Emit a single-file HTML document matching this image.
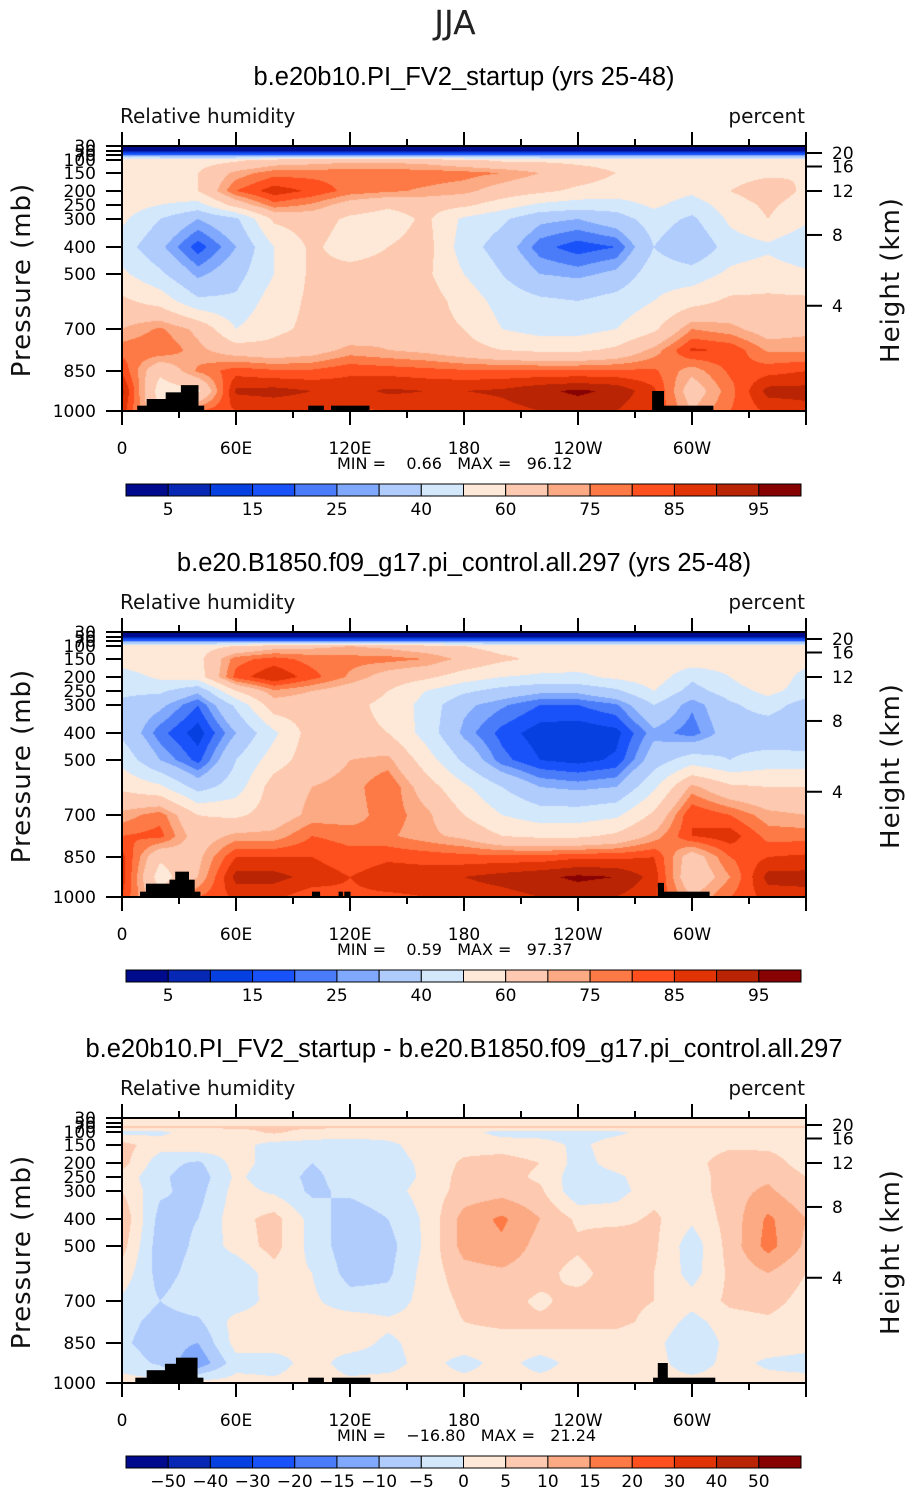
<!DOCTYPE html>
<html><head><meta charset="utf-8">
<style>
html,body{margin:0;padding:0;background:#fff;}
body{width:911px;height:1493px;position:relative;overflow:hidden;font-family:"Liberation Sans",sans-serif;}
canvas{position:absolute;}
svg{position:absolute;left:0;top:0;}
</style></head>
<body>
<canvas id="c1" width="684" height="265" style="left:122px;top:146px"></canvas>
<canvas id="c2" width="684" height="265" style="left:122px;top:632px"></canvas>
<canvas id="c3" width="684" height="265" style="left:122px;top:1118px"></canvas>
<svg id="ov" width="911" height="1493"></svg>
<script>
// ---- data ----
const LON = [0,20,40,60,80,100,120,140,160,180,200,220,240,260,280,300,320,340,360];
const PRES = [30,50,70,100,150,200,250,300,400,500,600,700,775,850,925,1000];
const LEVELS_RH = [5,10,15,20,25,30,40,50,60,70,75,80,85,90,95];
const LABELS_RH = ["5","15","25","40","60","75","85","95"];
const LEVELS_DIFF = [-50,-40,-30,-20,-15,-10,-5,0,5,10,15,20,30,40,50];
const LABELS_DIFF = ["−50","−40","−30","−20","−15","−10","−5","0","5","10","15","20","30","40","50"];
const LON_LABELS = ["0","60E","120E","180","120W","60W"];
const PRES_TICKS = [30,50,70,100,150,200,250,300,400,500,700,850,1000];
const HEIGHT_LABELS = ["20","16","12","8","4"];
const HEIGHT_PRES = [60,125,200,357,617];
const TITLES = ["b.e20b10.PI_FV2_startup (yrs 25-48)","b.e20.B1850.f09_g17.pi_control.all.297 (yrs 25-48)","b.e20b10.PI_FV2_startup - b.e20.B1850.f09_g17.pi_control.all.297"];
const MINMAX = [["0.66","96.12"],["0.59","97.37"],["−16.80","21.24"]];

const rh1 = [
[1,1,1,1,1,1,1,1,1,1,1,1,1,1,1,1,1,1,1],
[4,4,4,4,4,4,4,4,4,4,4,4,4,4,4,4,4,4,4],
[22,22,22,22,22,22,22,22,22,22,22,22,22,22,22,22,22,22,22],
[58,58,56,58,64,66,68,68,66,62,58,58,57,56,56,55,55,56,58],
[60,58,60,72,78,78,78,78,78,77,75,70,65,60,58,56,56,58,60],
[58,56,60,80,88,84,78,76,74,72,66,62,58,56,56,52,60,66,58],
[55,50,46,64,78,74,66,62,64,62,55,48,45,45,52,45,55,62,55],
[52,40,30,38,62,65,58,55,62,48,42,32,30,35,45,38,52,60,52],
[45,32,17,30,50,62,55,60,64,45,35,22,17,20,40,30,45,48,42],
[52,42,28,36,50,62,64,64,62,50,40,30,28,32,46,45,52,55,52],
[62,56,42,42,55,62,64,68,65,56,46,42,40,44,50,56,62,62,62],
[70,76,68,50,58,62,63,68,64,60,50,46,46,50,58,75,72,66,68],
[78,80,72,65,63,66,72,70,68,64,60,58,58,62,72,86,84,74,74],
[84,62,76,83,81,81,84,83,82,81,81,81,81,81,81,72,81,83,85],
[92,55,58,91,92,90,88,91,90,90,91,94,96,94,86,65,78,92,92],
[88,60,80,85,86,86,84,85,86,86,88,90,92,90,85,70,80,86,88]];

const rh2 = [
[1,1,1,1,1,1,1,1,1,1,1,1,1,1,1,1,1,1,1],
[4,4,4,4,4,4,4,4,4,4,4,4,4,4,4,4,4,4,4],
[22,22,22,22,22,22,22,22,22,22,22,22,22,22,22,22,22,22,22],
[56,56,56,60,66,68,70,68,64,60,56,56,55,55,55,55,55,55,56],
[55,58,57,78,82,78,77,77,75,68,62,58,55,55,57,57,55,60,55],
[45,52,55,82,90,82,74,66,62,55,50,48,48,52,56,42,50,60,45],
[42,42,32,60,74,70,65,60,50,42,36,32,32,38,50,36,45,53,45],
[38,32,20,42,66,65,62,58,46,32,26,20,20,24,40,26,38,45,35],
[38,22,12,30,48,65,62,60,46,28,18,12,11,13,28,22,35,32,30],
[47,30,18,40,55,66,70,72,55,38,22,15,13,16,35,45,40,45,45],
[58,52,36,45,65,70,72,80,65,52,40,30,28,30,48,72,62,60,60],
[72,78,60,58,65,72,72,78,72,60,50,45,45,48,62,85,80,72,70],
[80,82,65,72,72,80,78,76,72,68,60,58,58,62,72,85,88,78,78],
[87,62,68,85,85,85,82,84,83,82,82,82,84,84,85,65,80,85,86],
[88,55,70,92,92,88,85,88,88,90,92,94,96,95,88,62,75,92,92],
[85,62,80,86,86,82,84,84,85,87,88,90,92,90,86,70,80,87,88]];

const rh3 = [
[2,2,2,2,2,2,2,2,2,2,2,2,2,2,2,2,2,2,2],
[3,3,3,3,3,3,3,3,3,3,3,3,3,3,3,3,3,3,3],
[6,6,6,6,6,6,6,6,6,6,6,6,6,6,6,6,6,6,6],
[-2,-1,2,3,6,3,2,2,2,2,-2,-2,-2,-1,2,2,2,2,2],
[7,2,4,2,-2,-2,-2,-1,2,3,3,2,-1,2,2,2,4,4,3],
[7,-3,-6,2,-2,-5,-3,-2,1,6,7,5,-2,2,3,3,8,7,3],
[3,-4,-8,1,-3,-6,-3,-3,1,7,7,4,-3,-1,3,2,8,9,5],
[5,-4,-7,2,-1,-6,-4,-2,2,7,8,6,-4,-2,3,2,8,11,6],
[9,-7,-5,3,7,-2,-8,-5,1,12,16,10,4,3,6,1,7,16,10],
[7,-8,-4,2,7,-2,-8,-7,1,12,14,8,6,10,6,-3,7,17,9],
[3,-7,-3,-4,3,0,-7,-6,2,8,9,7,3,8,5,-2,6,10,5],
[-1,-5,-2,-3,2,1,-3,-3,2,6,7,4,7,6,5,2,6,7,3],
[-3,-7,-6,2,3,2,3,1,2,5,6,6,6,6,4,-2,3,4,2],
[-4,-8,-10,2,2,1,2,-1,2,3,3,3,3,3,2,-5,2,3,2],
[-2,-6,-14,-2,-2,2,-2,-2,2,-2,2,-2,2,3,2,-3,2,-1,-2],
[2,2,2,2,1,2,1,2,2,2,2,2,2,2,2,2,2,2,2]];

// topography blocks: [lonStart, lonEnd, topPressure]
const topo1 = [[8,13,980],[13,23,955],[23,31,930],[31,40,903],[40,43,980],[98,106,980],[110,130,980],[279,285,925],[285,311,980]];
const topo2 = [[9.5,12.6,980],[12.6,25,950],[25,28,935],[28,35,905],[35,38,935],[38,41,980],[100,104,980],[114,116,980],[117,120,980],[282,285,947],[285,309,980]];
const topo3 = [[7,13,980],[13,22.6,952],[22.6,28.4,928],[28.4,39.5,905],[39.5,42.6,980],[98,106,980],[110.5,130.5,980],[279.5,282,980],[282,287,925],[287,312,980]];

const COLORS = ['#000a8c','#0628b4','#0640e0','#1a52fa','#4a7cfa','#80a8fc','#b0ccfc','#d4e8fc','#fee9d8','#fdc9b0','#fcaa84','#fd7a46','#fe4f1e','#e03406','#b92404','#870202'];

// ---- layout / axis functions ----
const ROWY = [0,5,9,14,27,45,59,73,101,128,155,183,204,225,245,265];
const PW = 684, PH = 265, PX0 = 122;
const PANEL_TOP = [146,632,1118];
function yOfP(p){
  for(let i=0;i<PRES.length-1;i++){
    if(p>=PRES[i] && p<=PRES[i+1]){ return ROWY[i]+(p-PRES[i])/(PRES[i+1]-PRES[i])*(ROWY[i+1]-ROWY[i]); }
  }
  return p<PRES[0]?0:PH;
}
function xOfLon(l){ return l/360*PW; }
function hex(c){ return [parseInt(c.substr(1,2),16),parseInt(c.substr(3,2),16),parseInt(c.substr(5,2),16)]; }
const RGB = COLORS.map(hex);
function levelIdx(v,L){ let k=0; while(k<L.length && v>=L[k]) k++; return k; }

function render(id, grid, L){
  const cv=document.getElementById(id), ctx=cv.getContext('2d');
  const img=ctx.createImageData(PW,PH), d=img.data;
  const nC=LON.length;
  for(let py=0;py<PH;py++){
    const yy=py+0.5; let r=0;
    while(r<ROWY.length-2 && yy>ROWY[r+1]) r++;
    const t=Math.min(1,Math.max(0,(yy-ROWY[r])/(ROWY[r+1]-ROWY[r])));
    for(let px=0;px<PW;px++){
      const lon=(px+0.5)/PW*360;
      let c=0; while(c<nC-2 && lon>LON[c+1]) c++;
      const u=(lon-LON[c])/(LON[c+1]-LON[c]);
      const v=(1-t)*((1-u)*grid[r][c]+u*grid[r][c+1])+t*((1-u)*grid[r+1][c]+u*grid[r+1][c+1]);
      const col=RGB[levelIdx(v,L)], o=(py*PW+px)*4;
      d[o]=col[0];d[o+1]=col[1];d[o+2]=col[2];d[o+3]=255;
    }
  }
  ctx.putImageData(img,0,0);
}
render('c1',rh1,LEVELS_RH);
render('c2',rh2,LEVELS_RH);
render('c3',rh3,LEVELS_DIFF);

// ---- overlay ----
const NS='http://www.w3.org/2000/svg', ov=document.getElementById('ov');
const DJ='"DejaVu Sans","Liberation Sans",sans-serif';
function el(tag,attrs,parent,text){
  const e=document.createElementNS(NS,tag);
  for(const k in attrs) e.setAttribute(k,attrs[k]);
  if(text!==undefined) e.textContent=text;
  (parent||ov).appendChild(e); return e;
}
const main=el('text',{x:455,y:34,'text-anchor':'middle','font-size':33,'font-family':DJ,fill:'#222'},ov,'JJA');



const topos=[topo1,topo2,topo3];
for(let k=0;k<3;k++){
  const T=PANEL_TOP[k];
  const g=el('g',{});
  
  
  const tt=el('text',{x:464,y:T-61,'text-anchor':'middle','font-size':25.5,fill:'#000'},g,TITLES[k]);
  
  
  const lt=el('text',{x:120,y:T-23,'font-size':20,'font-family':DJ,fill:'#111'},g,'Relative humidity');
  
  
  const ut=el('text',{x:805,y:T-23,'text-anchor':'end','font-size':20,'font-family':DJ,fill:'#111'},g,'percent');
  
  
  topos[k].forEach(b=>{
    const y=T+yOfP(b[2]);
    const r=el('rect',{x:PX0+xOfLon(b[0]),y:y,width:xOfLon(b[1])-xOfLon(b[0])+0.5,height:T+PH-y,fill:'#000'},g);
    
    
  });
  const fr=el('rect',{x:PX0,y:T,width:PW,height:PH,fill:'none',stroke:'#000','stroke-width':2},g);
  
  
  for(let l=0;l<=360;l+=30){
    const x=PX0+xOfLon(l), major=(l%60===0), len=major?14:7;
    el('line',{x1:x,y1:T,x2:x,y2:T-len,stroke:'#000','stroke-width':2},g);
    el('line',{x1:x,y1:T+PH,x2:x,y2:T+PH+len,stroke:'#000','stroke-width':2},g);
  }
  LON_LABELS.forEach((s,i)=>{
    const t=el('text',{x:PX0+xOfLon(i*60),y:T+PH+43,'text-anchor':'middle','font-size':17,'font-family':DJ,fill:'#000'},g,s);
    
    
  });
  const mm=el('text',{x:337,y:T+PH+58,'font-size':16,'font-family':DJ,fill:'#000',style:'white-space:pre'},g,'MIN =    '+MINMAX[k][0]+'   MAX =   '+MINMAX[k][1]);
  
  
  PRES_TICKS.forEach(p=>{
    const y=T+yOfP(p);
    el('line',{x1:PX0,y1:y,x2:PX0-16,y2:y,stroke:'#000','stroke-width':2},g);
    const t=el('text',{x:PX0-26,y:y+6,'text-anchor':'end','font-size':17,'font-family':DJ,fill:'#000'},g,String(p));
    
    
  });
  HEIGHT_LABELS.forEach((s,i)=>{
    const y=T+yOfP(HEIGHT_PRES[i]);
    el('line',{x1:PX0+PW,y1:y,x2:PX0+PW+16,y2:y,stroke:'#000','stroke-width':2},g);
    const t=el('text',{x:832,y:y+6,'font-size':17,'font-family':DJ,fill:'#000'},g,s);
    
    
  });
  const ya=el('text',{x:0,y:0,'text-anchor':'middle','font-size':26,'font-family':DJ,'letter-spacing':'1',fill:'#111',transform:'translate(30,'+(T+134)+') rotate(-90)'},g,'Pressure (mb)');
  
  
  const ha=el('text',{x:0,y:0,'text-anchor':'middle','font-size':26,'font-family':DJ,'letter-spacing':'1',fill:'#111',transform:'translate(899,'+(T+134)+') rotate(-90)'},g,'Height (km)');
  
  
  const cbY=T+338, cbX=126, cbW=675, bw=cbW/16;
  COLORS.forEach((c,i)=>{
    const r=el('rect',{x:cbX+i*bw,y:cbY,width:bw,height:12,fill:c,stroke:'#000','stroke-width':1},g);
    
    
  });
  const labs=k<2?LABELS_RH:LABELS_DIFF, step=k<2?2:1;
  labs.forEach((s,i)=>{
    const b=1+i*step;
    const t=el('text',{x:cbX+b*bw,y:cbY+31,'text-anchor':'middle','font-size':17,'font-family':DJ,fill:'#000'},g,s);
    
    
  });
}
</script>
</body></html>
